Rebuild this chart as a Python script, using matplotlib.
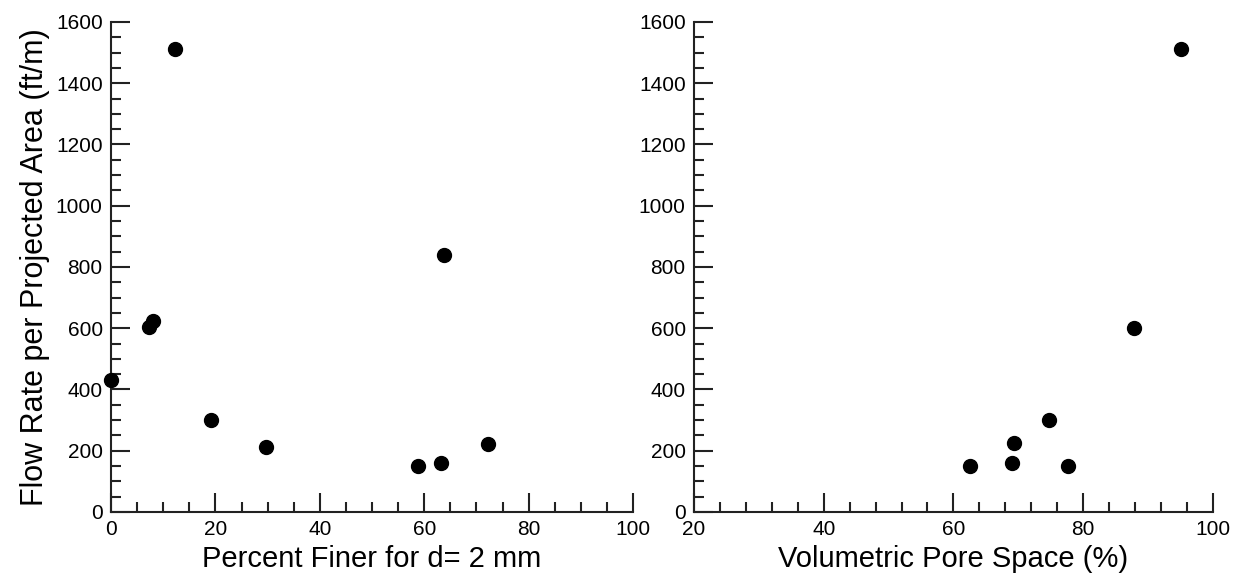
import numpy as np
import matplotlib
matplotlib.use("Agg")
import matplotlib.pyplot as plt
from matplotlib.ticker import MultipleLocator

plt.rcParams['font.family'] = ['Liberation Sans', 'DejaVu Sans']

# flow rate vs percent finer (d = 2 mm)
finer_pct = [0, 7.2, 8.0, 12.3, 19.2, 29.6, 58.9, 63.2, 63.8, 72.3]
flow_finer = [430, 603, 623, 1511, 300, 212, 150, 159, 838, 222]

# flow rate vs volumetric pore space
pore_pct = [62.6, 69.0, 69.3, 74.8, 77.7, 87.8, 95.1]
flow_pore = [150, 161, 224, 300, 150, 601, 1511]

fig = plt.figure(figsize=(12.43, 5.83), dpi=100)
ax1 = fig.add_axes([0.0893, 0.1218, 0.4200, 0.8405])
ax2 = fig.add_axes([0.5583, 0.1218, 0.4175, 0.8405])

def style(ax, xmin, xmax, xminor):
    ax.set_xlim(xmin, xmax)
    ax.set_ylim(0, 1600)
    ax.xaxis.set_major_locator(MultipleLocator(20))
    ax.xaxis.set_minor_locator(MultipleLocator(xminor))
    ax.yaxis.set_major_locator(MultipleLocator(200))
    ax.yaxis.set_minor_locator(MultipleLocator(50))
    for s in ['top', 'right']:
        ax.spines[s].set_visible(False)
    for s in ['left', 'bottom']:
        ax.spines[s].set_linewidth(1.5)
        ax.spines[s].set_color('#222222')
    ax.tick_params(which='major', direction='in', length=14, width=1.5,
                   color='#222222', labelsize=15, pad=6)
    ax.tick_params(which='minor', direction='in', length=7, width=1.5,
                   color='#222222')

ax1.scatter(finer_pct, flow_finer, s=100, color='black', zorder=3, clip_on=False)
style(ax1, 0, 100, 5)
ax1.set_xlabel("Percent Finer for d= 2 mm", fontsize=21, labelpad=4)
ax1.set_ylabel("Flow Rate per Projected Area (ft/m)", fontsize=22, labelpad=4)

ax2.scatter(pore_pct, flow_pore, s=100, color='black', zorder=3, clip_on=False)
style(ax2, 20, 100, 4)
ax2.set_xlabel("Volumetric Pore Space (%)", fontsize=21, labelpad=4)

fig.savefig("out.png", dpi=100)
